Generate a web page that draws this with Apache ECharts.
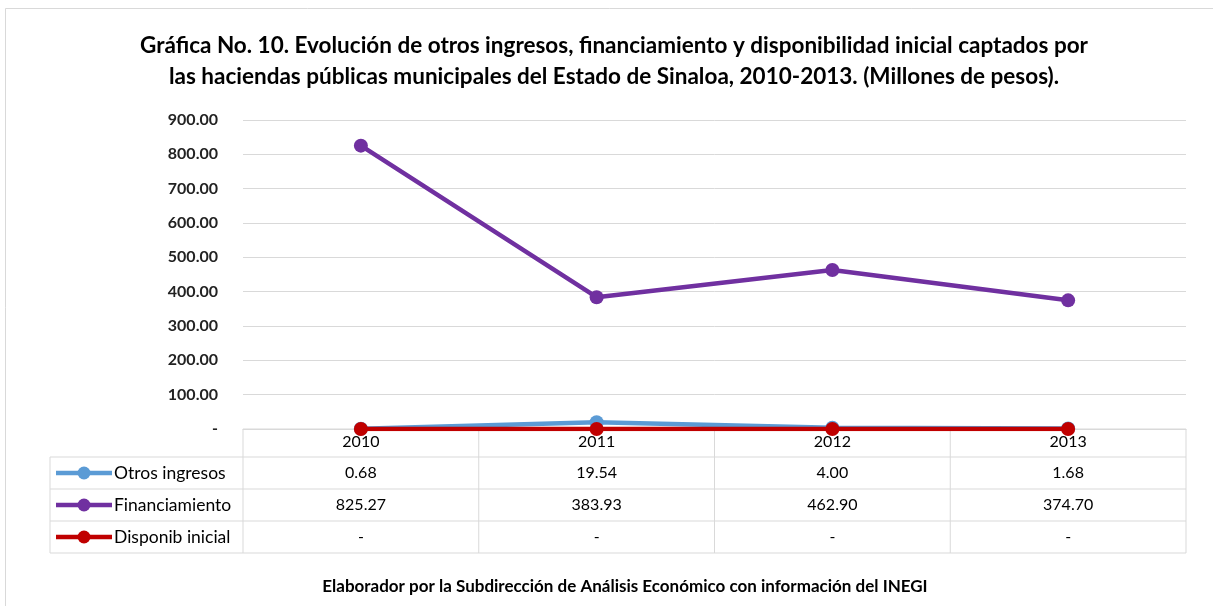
<!DOCTYPE html>
<html>
<head>
<meta charset="utf-8">
<script src="https://cdn.jsdelivr.net/npm/echarts@6/dist/echarts.min.js"></script>
<style>
html,body{margin:0;padding:0;background:#fff;}
#chart{width:1213px;height:606px;}
</style>
</head>
<body>
<div id="chart"></div>
<script>
var years = ['2010', '2011', '2012', '2013'];
var otros = [0.68, 19.54, 4.00, 1.68];
var financiamiento = [825.27, 383.93, 462.90, 374.70];
var disponib = [0, 0, 0, 0];
var nombres = ['Otros ingresos', 'Financiamiento', 'Disponib inicial'];
var colores = ['#5B9BD5', '#7030A0', '#C00000'];

var fuente = 'Lato';
var myChart = echarts.init(document.getElementById('chart'));

function fmt(v) {
    //cero se muestra como guion
    if (v === 0) return '-';
    return v.toFixed(2);
}

var serieData = [otros, financiamiento, disponib];
var series = [];
for (var i = 0; i < serieData.length; i++) {
    series.push({
        name: nombres[i],
        type: 'line',
        data: serieData[i],
        symbol: 'circle',
        symbolSize: 14,
        z: 3 + i,
        lineStyle: { color: colores[i], width: 4.5 },
        itemStyle: { color: colores[i] }
    });
}

var option = {
    backgroundColor: '#fff',
    animation: false,
    title: {
        text: 'Gráfica No. 10. Evolución de otros ingresos, financiamiento y disponibilidad inicial captados por\nlas haciendas públicas municipales del Estado de Sinaloa, 2010-2013. (Millones de pesos).',
        left: 609,
        textAlign: 'center',
        top: 25,
        textStyle: {
            fontFamily: fuente,
            fontWeight: 'bold',
            fontSize: 22.5,
            lineHeight: 31,
            color: '#000'
        }
    },
    grid: {
        left: 243,
        right: 27,
        top: 120,
        bottom: 177
    },
    xAxis: {
        type: 'category',
        data: years,
        boundaryGap: true,
        axisLine: { show: true, lineStyle: { color: '#d9d9d9', width: 1 } },
        axisTick: { show: false },
        axisLabel: {
            margin: 5,
            fontFamily: fuente,
            fontSize: 16,
            color: '#000'
        },
        splitLine: { show: false }
    },
    yAxis: {
        type: 'value',
        min: 0,
        max: 900,
        interval: 100,
        axisLine: { show: false },
        axisTick: { show: false },
        axisLabel: {
            margin: 25,
            fontFamily: fuente,
            fontWeight: 'bold',
            fontSize: 16,
            color: '#222',
            formatter: function (v) { return v === 0 ? '-' : v.toFixed(2); }
        },
        splitLine: { lineStyle: { color: '#d9d9d9', width: 1 } }
    },
    series: series
};
myChart.setOption(option);

// tabla de datos debajo del eje
var x0 = 50, xL = 243, xR = 1186;
var yTop = 429, rowH = 32, yHead = 457;
var g = [];
var lc = '#d9d9d9';
function linea(x1, y1, x2, y2) {
    g.push({ type: 'line', shape: { x1: x1, y1: y1, x2: x2, y2: y2 }, style: { stroke: lc, lineWidth: 1 }, silent: true });
}
var yBottom = yHead + rowH * nombres.length;
for (var r = 0; r <= nombres.length; r++) {
    linea(x0, yHead + r * rowH, xR, yHead + r * rowH);
}
linea(xL, yTop, xR, yTop);
linea(x0, yHead, x0, yBottom);
linea(xL, yTop, xL, yBottom);
var colW = (xR - xL) / years.length;
for (var c = 1; c <= years.length; c++) {
    linea(xL + c * colW, yTop, xL + c * colW, yBottom);
}
for (var r = 0; r < nombres.length; r++) {
    var cy = yHead + r * rowH + rowH / 2;
    g.push({ type: 'line', shape: { x1: 56, y1: cy, x2: 112, y2: cy }, style: { stroke: colores[r], lineWidth: 4.5 }, silent: true });
    g.push({ type: 'circle', shape: { cx: 84, cy: cy, r: 6.5 }, style: { fill: colores[r] }, silent: true });
    g.push({ type: 'text', x: 114, y: cy, style: { text: nombres[r], fontFamily: fuente, fontSize: 17.5, fill: '#000', verticalAlign: 'middle' }, silent: true });
    for (var c = 0; c < years.length; c++) {
        var px = myChart.convertToPixel({ xAxisIndex: 0 }, years[c]);
        g.push({ type: 'text', x: px, y: cy, style: { text: fmt(serieData[r][c]), fontFamily: fuente, fontSize: 16, fill: '#000', align: 'center', verticalAlign: 'middle' }, silent: true });
    }
}
// marco exterior
g.push({ type: 'rect', shape: { x: 5.5, y: 8.5, width: 1220, height: 620 }, style: { fill: 'none', stroke: '#d9d9d9', lineWidth: 1 }, silent: true });
// nota de fuente
g.push({ type: 'text', x: 625, y: 587, style: { text: 'Elaborador por la Subdirección de Análisis Económico con información del INEGI', fontFamily: fuente, fontWeight: 'bold', fontSize: 17, fill: '#000', align: 'center', verticalAlign: 'middle' }, silent: true });

myChart.setOption({ graphic: g });
</script>
</body>
</html>
